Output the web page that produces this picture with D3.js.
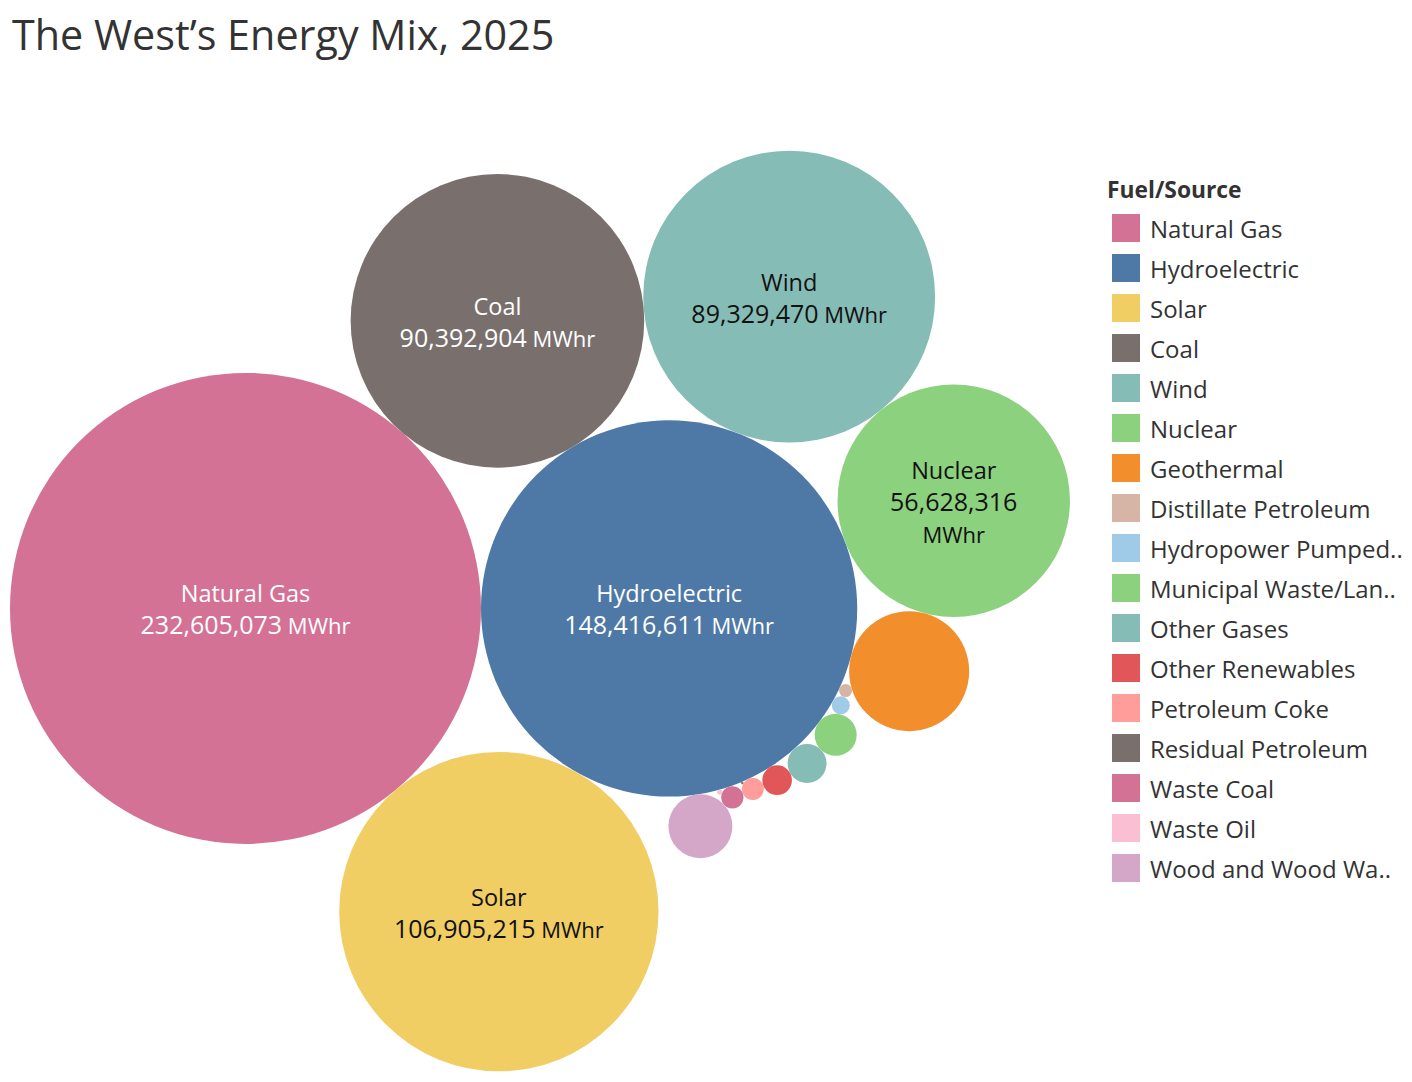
<!DOCTYPE html>
<html>
<head>
<meta charset="utf-8">
<script src="https://cdn.jsdelivr.net/npm/d3@7"></script>
<style>
  body { margin: 0; background: #fff; }
  svg { display: block; font-family: "Open Sans", "Noto Sans", sans-serif; }
</style>
</head>
<body>
<svg id="chart" width="1412" height="1082"></svg>
<script>
// ---------- data ----------
const titleText = "The West\u2019s Energy Mix, 2025";
const legendTitle = "Fuel/Source";
const categories = [
  "Natural Gas", "Hydroelectric", "Solar", "Coal", "Wind", "Nuclear", "Geothermal",
  "Distillate Petroleum", "Hydropower Pumped Storage", "Municipal Waste/Landfill Gas",
  "Other Gases", "Other Renewables", "Petroleum Coke", "Residual Petroleum",
  "Waste Coal", "Waste Oil", "Wood and Wood Waste"
];
const legendLabels = [
  "Natural Gas", "Hydroelectric", "Solar", "Coal", "Wind", "Nuclear", "Geothermal",
  "Distillate Petroleum", "Hydropower Pumped..", "Municipal Waste/Lan..",
  "Other Gases", "Other Renewables", "Petroleum Coke", "Residual Petroleum",
  "Waste Coal", "Waste Oil", "Wood and Wood Wa.."
];
const valuesMWhr = [
  232605073, 148416611, 106905215, 90392904, 89329470, 56628316, 15100000,
  177000, 340000, 1850000, 1590000, 920000, 507000, 6000,
  520000, 26000, 4290000
];
const colorsList = [
  "#d37295", "#4e79a7", "#f1ce63", "#79706e", "#86bcb6", "#8cd17d", "#f28e2b",
  "#d7b5a6", "#a0cbe8", "#8cd17d", "#86bcb6", "#e15759", "#ff9d9a", "#79706e",
  "#d37295", "#fabfd2", "#d4a6c8"
];
const whiteLabel = ["Natural Gas", "Hydroelectric", "Coal"];
const unitText = "MWhr";

// ---------- setup ----------
const svg = d3.select("#chart");
const fmt = d3.format(",");
const color = d3.scaleOrdinal().domain(categories).range(colorsList);
const rScale = d3.scaleSqrt().domain([0, d3.max(valuesMWhr)]).range([0, 235.5]);

// ---------- packed bubble layout (front chain, Tableau-like spiral) ----------
const nodes = categories.map((c, i) => ({ name: c, value: valuesMWhr[i], r: rScale(valuesMWhr[i]) }));

function place(b, a, c) {
  const dx = b.x - a.x, dy = b.y - a.y, d2 = dx * dx + dy * dy;
  if (d2) {
    let a2 = a.r + c.r; a2 *= a2;
    let b2 = b.r + c.r; b2 *= b2;
    if (a2 > b2) {
      const x = (d2 + b2 - a2) / (2 * d2);
      const y = Math.sqrt(Math.max(0, b2 / d2 - x * x));
      c.x = b.x - x * dx - y * dy;
      c.y = b.y - x * dy + y * dx;
    } else {
      const x = (d2 + a2 - b2) / (2 * d2);
      const y = Math.sqrt(Math.max(0, a2 / d2 - x * x));
      c.x = a.x + x * dx - y * dy;
      c.y = a.y + x * dy + y * dx;
    }
  } else {
    c.x = a.x + c.r; c.y = a.y;
  }
}
function intersects(p, q) {
  const dr = p.r + q.r - 1e-6, dx = q.x - p.x, dy = q.y - p.y;
  return dr > 0 && dr * dr > dx * dx + dy * dy;
}

(function layout() {
  const n0 = nodes[0], n1 = nodes[1], n2 = nodes[2];
  n0.x = 0; n0.y = 0;
  n1.x = n0.r + n1.r; n1.y = 0;
  place(n1, n0, n2);
  let a = { _: n0 }, b = { _: n1 }, c = { _: n2 };
  a.next = c.previous = b;
  b.next = a.previous = c;
  c.next = b.previous = a;
  pack: for (let i = 3; i < nodes.length; ++i) {
    const circ = nodes[i];
    place(a._, b._, circ);
    const cn = { _: circ };
    let j = b.next, k = a.previous, sj = b._.r, sk = a._.r;
    do {
      if (sj <= sk) {
        if (intersects(j._, circ)) { b = j; a.next = b; b.previous = a; --i; continue pack; }
        sj += j._.r; j = j.next;
      } else {
        if (intersects(k._, circ)) { a = k; a.next = b; b.previous = a; --i; continue pack; }
        sk += k._.r; k = k.previous;
      }
    } while (j !== k.next);
    cn.previous = a; cn.next = b; a.next = b.previous = cn;
    a = cn; // keep spiralling from the newest circle
  }
})();

// fit layout into the plot band
const chartLeft = 10, bandTop = 150, bandBottom = 1072;
const minX = d3.min(nodes, d => d.x - d.r);
const minY = d3.min(nodes, d => d.y - d.r), maxY = d3.max(nodes, d => d.y + d.r);
const yMid = (minY + maxY) / 2, bandMid = (bandTop + bandBottom) / 2;
const xPos = d3.scaleLinear().domain([minX, minX + 1]).range([chartLeft, chartLeft + 1]);
const yPos = d3.scaleLinear().domain([yMid, yMid + 1]).range([bandMid, bandMid + 1]);

// ---------- title ----------
svg.append("text")
  .attr("x", 12).attr("y", 50)
  .attr("font-size", 41.3)
  .attr("fill", "#333")
  .text(titleText);

// ---------- bubbles ----------
const g = svg.append("g");
g.selectAll("circle")
  .data(nodes)
  .join("circle")
  .attr("cx", d => xPos(d.x))
  .attr("cy", d => yPos(d.y))
  .attr("r", d => d.r)
  .attr("fill", d => color(d.name));

// ---------- labels ----------
const NAME_FS = 23.5, NUM_FS = 25, UNIT_FS = 22;
const labelled = nodes.filter(d => d.r > 100);
labelled.forEach(d => {
  const cx = xPos(d.x), cy = yPos(d.y);
  const fill = whiteLabel.includes(d.name) ? "#ffffff" : "#111111";
  const tmp = g.append("text").attr("x", -1000).attr("y", -1000);
  tmp.append("tspan").attr("font-size", NUM_FS).text(fmt(d.value));
  tmp.append("tspan").attr("font-size", UNIT_FS).text(" " + unitText);
  const wLine = tmp.node().getComputedTextLength();
  tmp.remove();
  const wrap = wLine > 0.78 * 2 * d.r;
  const lines = wrap ? ["name", "num", "unit"] : ["name", "numunit"];
  const n = lines.length;
  lines.forEach((kind, k) => {
    const y = cy + 10 + (k - (n - 1) / 2) * 32;
    const t = g.append("text")
      .attr("x", cx).attr("y", y)
      .attr("text-anchor", "middle")
      .attr("fill", fill);
    if (kind === "name") t.attr("font-size", NAME_FS).text(d.name);
    else if (kind === "num") t.attr("font-size", NUM_FS).text(fmt(d.value));
    else if (kind === "unit") t.attr("font-size", UNIT_FS).text(unitText);
    else {
      t.append("tspan").attr("font-size", NUM_FS).text(fmt(d.value));
      t.append("tspan").attr("font-size", UNIT_FS).text(" " + unitText);
    }
  });
});

// ---------- legend ----------
const legend = svg.append("g").attr("transform", "translate(1107,0)");
legend.append("text")
  .attr("x", 0).attr("y", 198)
  .attr("font-size", 22.8).attr("font-weight", 700)
  .attr("fill", "#333")
  .text(legendTitle);
const items = legend.selectAll("g.item")
  .data(categories)
  .join("g").attr("class", "item")
  .attr("transform", (d, i) => `translate(5,${214 + i * 40})`);
items.append("rect")
  .attr("width", 28).attr("height", 28)
  .attr("fill", d => color(d));
items.append("text")
  .attr("x", 38).attr("y", 24)
  .attr("font-size", 24)
  .attr("fill", "#333")
  .text((d, i) => legendLabels[i]);
</script>
</body>
</html>
